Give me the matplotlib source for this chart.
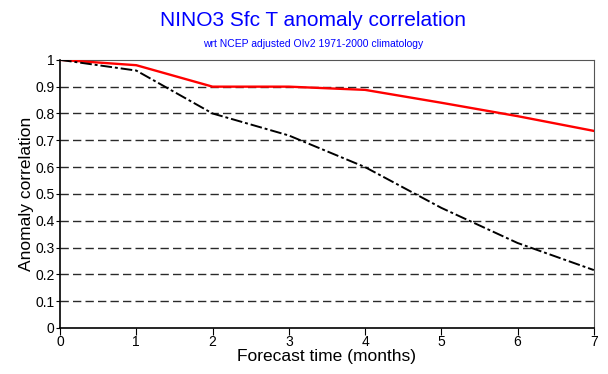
import matplotlib
matplotlib.use("Agg")
import matplotlib.pyplot as plt
import numpy as np

plt.rcParams['font.family'] = ['Liberation Sans', 'DejaVu Sans']

# forecast lead (months)
lead = [0, 1, 2, 3, 4, 5, 6, 7]
# anomaly correlation for the two curves
corr_red = [1.0, 0.98, 0.90, 0.90, 0.888, 0.84, 0.79, 0.735]
corr_black = [1.0, 0.96, 0.80, 0.718, 0.60, 0.448, 0.317, 0.216]

y_ticks = [0, 0.1, 0.2, 0.3, 0.4, 0.5, 0.6, 0.7, 0.8, 0.9, 1]
y_labels = ['0', '0.1', '0.2', '0.3', '0.4', '0.5', '0.6', '0.7', '0.8', '0.9', '1']

fig = plt.figure(figsize=(6.08, 3.74), dpi=100)
ax = fig.add_axes([0.0987, 0.123, 0.878, 0.717])

# dashed horizontal grid lines
for yv in y_ticks[1:-1]:
    ax.axhline(yv, color='#2a2a2a', linestyle=(0, (6, 3)), linewidth=1.0, zorder=1)

ax.plot(lead, corr_red, color='red', linewidth=1.7, zorder=3)
ax.plot(lead, corr_black, color='black', linewidth=1.4,
        linestyle=(0, (6, 1.5, 1.5, 1.5)), zorder=3)

ax.set_xlim(0, 7)
ax.set_ylim(0, 1)
ax.set_xticks(lead)
ax.set_yticks(y_ticks)
ax.set_yticklabels(y_labels)
ax.tick_params(axis='x', direction='out', length=5, labelsize=10, pad=0)
ax.tick_params(axis='y', direction='out', length=3, labelsize=10, pad=1)

for side in ['top', 'right']:
    ax.spines[side].set_color('#555555')
ax.spines['left'].set_linewidth(1.2)
ax.spines['bottom'].set_linewidth(1.2)

ax.set_xlabel('Forecast time (months)', fontsize=12.5, labelpad=0)
ax.set_ylabel('Anomaly correlation', fontsize=12.5, labelpad=1)

fig.text(0.515, 0.945, 'NINO3 Sfc T anomaly correlation', color='#0000ff',
         fontsize=15, ha='center', va='center')
fig.text(0.515, 0.882, 'wrt NCEP adjusted OIv2 1971-2000 climatology', color='#0000ff',
         fontsize=7.5, ha='center', va='center')

plt.savefig('out.png', dpi=100)
